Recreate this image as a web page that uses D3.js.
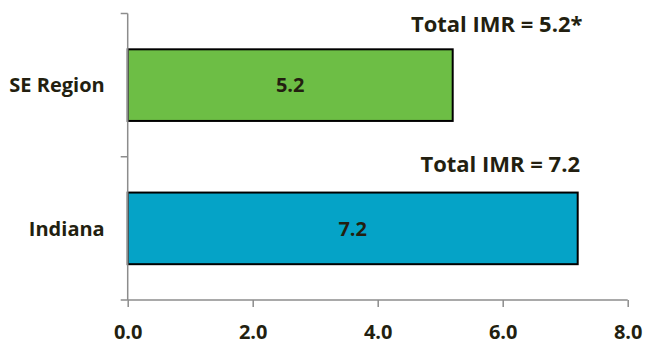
<!DOCTYPE html>
<html>
<head>
<meta charset="utf-8">
<script src="https://cdn.jsdelivr.net/npm/d3@7"></script>
<style>
  body { margin: 0; background: #fff; }
  text { font-family: "Open Sans", "DejaVu Sans", sans-serif; font-weight: bold; fill: #231f10; }
</style>
</head>
<body>
<div id="chart"></div>
<script>
// chart data
var categories = ["SE Region", "Indiana"];
var imrValues = [5.2, 7.2];
var barColors = ["#6dbe45", "#05a3c7"];
var totalLabels = ["Total IMR = 5.2*", "Total IMR = 7.2"];
var xTicks = [0, 2, 4, 6, 8];

// dimensions and margins
var margin = {top: 13.5, right: 20, bottom: 47, left: 127.7},
    width = 500,
    height = 286.5;

var x = d3.scaleLinear()
    .domain([0, 8])
    .range([0, width]);
var y = d3.scaleBand()
    .domain(categories)
    .range([0, height])
    .paddingInner(0.5)
    .paddingOuter(0.25);

var svg = d3.select("#chart").append("svg")
    .attr("width", 648)
    .attr("height", 347)
  .append("g")
    .attr("transform", "translate(" + margin.left + "," + margin.top + ")");

// bars
svg.selectAll(".bar")
    .data(categories)
  .enter().append("rect")
    .attr("class", "bar")
    .attr("x", x(0))
    .attr("y", function(d) { return y(d); })
    .attr("width", function(d, i) { return x(imrValues[i]) - x(0); })
    .attr("height", y.bandwidth())
    .attr("fill", function(d, i) { return barColors[i]; })
    .attr("stroke", "#000")
    .attr("stroke-width", 2);

// value labels inside bars
svg.selectAll(".val")
    .data(categories)
  .enter().append("text")
    .attr("class", "val")
    .attr("x", function(d, i) { return x(imrValues[i]) / 2; })
    .attr("y", function(d) { return y(d) + y.bandwidth() / 2; })
    .attr("dy", "0.36em")
    .attr("text-anchor", "middle")
    .style("font-size", "20px")
    .text(function(d, i) { return imrValues[i].toFixed(1); });

// total labels above bars
svg.selectAll(".total")
    .data(categories)
  .enter().append("text")
    .attr("class", "total")
    .attr("x", function(d, i) { return i == 0 ? 369 : 372.5; })
    .attr("y", function(d, i) { return y(d) - (i == 0 ? 17.5 : 21); })
    .attr("text-anchor", "middle")
    .style("font-size", "22px")
    .text(function(d, i) { return totalLabels[i]; });

// y axis (category band edges as ticks)
var axisColor = "#8c8c8c";
svg.append("line")
    .attr("x1", 0).attr("x2", 0)
    .attr("y1", 0).attr("y2", height)
    .attr("stroke", axisColor).attr("stroke-width", 1.5);
var edges = [0, y.step(), height];
svg.selectAll(".ytick")
    .data(edges)
  .enter().append("line")
    .attr("x1", -7).attr("x2", 0)
    .attr("y1", function(d) { return d; })
    .attr("y2", function(d) { return d; })
    .attr("stroke", axisColor).attr("stroke-width", 1.5);

svg.selectAll(".cat")
    .data(categories)
  .enter().append("text")
    .attr("class", "cat")
    .attr("x", -23)
    .attr("y", function(d) { return y(d) + y.bandwidth() / 2; })
    .attr("dy", "0.36em")
    .attr("text-anchor", "end")
    .style("font-size", "20px")
    .text(function(d) { return d; });

// x axis
var xAxis = svg.append("g")
    .attr("transform", "translate(0," + height + ")")
    .call(d3.axisBottom(x).tickValues(xTicks).tickSize(7).tickPadding(18)
      .tickFormat(d3.format(".1f")));
xAxis.select(".domain").attr("stroke", axisColor).attr("stroke-width", 1.5)
    .attr("d", "M0,0H" + x(8));
xAxis.selectAll(".tick line").attr("stroke", axisColor).attr("stroke-width", 1.5);
xAxis.selectAll(".tick text")
    .attr("font-family", null)
    .style("font-size", "20px")
    .attr("fill", null);
</script>
</body>
</html>
